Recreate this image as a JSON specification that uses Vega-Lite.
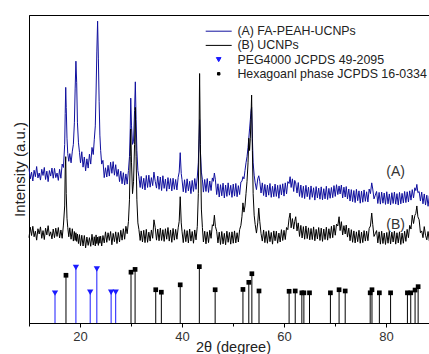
{
  "$schema": "https://vega.github.io/schema/vega-lite/v6.json",
  "width": 408,
  "height": 308,
  "autosize": {"type": "none"},
  "padding": {"left": 29, "top": 15, "right": 0, "bottom": 31},
  "background": "white",
  "config": {
    "view": {"stroke": "#000000", "strokeWidth": 1},
    "font": "Liberation Sans",
    "axis": {"grid": false, "domainColor": "#000000", "tickColor": "#000000", "labelFont": "Liberation Sans", "titleFont": "Liberation Sans", "titleFontWeight": "normal", "labelColor": "#333333", "titleColor": "#222222"},
    "legend": {"labelFont": "Liberation Sans", "labelFontSize": 12.4, "labelColor": "#222222", "labelLimit": 0}
  },
  "datasets": {
    "xrd": [
      {"x":10.00,"A":50.2,"B":27.7},{"x":10.25,"A":46.8,"B":31.1},{"x":10.50,"A":49.0,"B":28.4},{"x":10.75,"A":46.1,"B":31.4},
      {"x":11.00,"A":49.6,"B":28.0},{"x":11.25,"A":47.5,"B":29.8},{"x":11.50,"A":50.8,"B":26.9},{"x":11.75,"A":47.1,"B":30.6},
      {"x":12.00,"A":48.7,"B":28.9},{"x":12.25,"A":46.4,"B":31.2},{"x":12.50,"A":49.9,"B":27.5},{"x":12.75,"A":47.9,"B":30.0},
      {"x":13.00,"A":50.5,"B":27.1},{"x":13.25,"A":46.6,"B":30.8},{"x":13.50,"A":49.3,"B":28.6},{"x":13.75,"A":45.9,"B":31.6},
      {"x":14.00,"A":49.5,"B":28.2},{"x":14.25,"A":47.7,"B":29.6},{"x":14.50,"A":50.3,"B":27.3},{"x":14.75,"A":47.0,"B":30.5},
      {"x":15.00,"A":50.2,"B":27.7},{"x":15.25,"A":47.2,"B":30.8},{"x":15.50,"A":48.7,"B":28.1},{"x":15.75,"A":46.3,"B":31.0},
      {"x":16.00,"A":49.9,"B":27.6},{"x":16.25,"A":47.0,"B":30.2},{"x":16.50,"A":51.6,"B":27.5},{"x":16.75,"A":50.5,"B":31.8},
      {"x":17.00,"A":58,"B":38},{"x":17.10,"A":68,"B":50},{"x":17.20,"A":76.5,"B":54},{"x":17.30,"A":70,"B":42},
      {"x":17.45,"A":60,"B":34},{"x":17.60,"A":55,"B":31},{"x":17.80,"A":52.5,"B":28.0},{"x":18.00,"A":55.0,"B":30.9},
      {"x":18.25,"A":52.0,"B":27.2},{"x":18.50,"A":55.8,"B":30.6},{"x":18.70,"A":58,"B":26.6},{"x":18.90,"A":65,"B":29.7},
      {"x":19.05,"A":76,"B":26.8},{"x":19.20,"A":85,"B":29.3},{"x":19.35,"A":78,"B":26.5},{"x":19.50,"A":65,"B":28.9},
      {"x":19.70,"A":58.5,"B":25.8},{"x":19.90,"A":55.4,"B":28.7},{"x":20.10,"A":52.0,"B":25.1},{"x":20.35,"A":55.6,"B":28.5},
      {"x":20.60,"A":50.6,"B":25.0},{"x":20.85,"A":53.9,"B":28.4},{"x":21.10,"A":49.4,"B":24.4},{"x":21.35,"A":53.3,"B":27.9},
      {"x":21.60,"A":50.3,"B":25.2},{"x":21.85,"A":54.8,"B":27.7},{"x":22.10,"A":51.6,"B":24.9},{"x":22.35,"A":57.0,"B":28.8},
      {"x":22.60,"A":54.7,"B":25.3},{"x":22.80,"A":59.5,"B":28.0},{"x":23.00,"A":64,"B":25.0},{"x":23.15,"A":75,"B":28.6},
      {"x":23.30,"A":88,"B":25.8},{"x":23.45,"A":98,"B":27.9},{"x":23.60,"A":86,"B":25.2},{"x":23.75,"A":72,"B":28.1},
      {"x":23.90,"A":61,"B":25.9},{"x":24.05,"A":56.0,"B":28.2},{"x":24.25,"A":51.6,"B":25.0},{"x":24.50,"A":52.8,"B":28.4},
      {"x":24.75,"A":47.2,"B":26.0},{"x":25.00,"A":50.4,"B":29.6},{"x":25.25,"A":47.4,"B":26.2},{"x":25.50,"A":51.2,"B":29.3},
      {"x":25.75,"A":47.7,"B":26.8},{"x":26.00,"A":52.2,"B":29.7},{"x":26.25,"A":48.6,"B":25.4},{"x":26.50,"A":52.4,"B":29.1},
      {"x":26.75,"A":48.0,"B":26.4},{"x":27.00,"A":51.4,"B":29.6},{"x":27.25,"A":47.6,"B":25.8},{"x":27.50,"A":49.9,"B":29.4},
      {"x":27.75,"A":45.9,"B":26.3},{"x":28.00,"A":49.3,"B":30.1},{"x":28.25,"A":45.2,"B":26.9},{"x":28.50,"A":48.8,"B":30.6},
      {"x":28.75,"A":44.8,"B":27.2},{"x":29.00,"A":48.4,"B":31.4},{"x":29.25,"A":45.1,"B":29.0},{"x":29.50,"A":49.5,"B":33.0},
      {"x":29.70,"A":54,"B":40},{"x":29.85,"A":63,"B":54},{"x":29.95,"A":73,"B":63},{"x":30.10,"A":64,"B":52},
      {"x":30.30,"A":58,"B":42},{"x":30.50,"A":59,"B":46},{"x":30.70,"A":69,"B":58},{"x":30.85,"A":78.3,"B":70},
      {"x":31.00,"A":66,"B":54},{"x":31.15,"A":56,"B":40},{"x":31.35,"A":49.5,"B":32.5},{"x":31.55,"A":47.5,"B":30.4},
      {"x":31.80,"A":44.0,"B":26.8},{"x":32.00,"A":47.6,"B":29.9},{"x":32.25,"A":43.6,"B":26.3},{"x":32.50,"A":47.0,"B":30.1},
      {"x":32.75,"A":43.2,"B":26.1},{"x":33.00,"A":47.9,"B":30.4},{"x":33.25,"A":44.0,"B":26.2},{"x":33.50,"A":48.0,"B":29.5},
      {"x":33.75,"A":44.1,"B":26.6},{"x":34.00,"A":47.2,"B":30.2},{"x":34.25,"A":44.6,"B":27.5},{"x":34.50,"A":49.0,"B":33.5},
      {"x":34.75,"A":46.0,"B":31.0},{"x":35.00,"A":43.8,"B":26.9},{"x":35.25,"A":47.7,"B":30.5},{"x":35.50,"A":43.4,"B":26.7},
      {"x":35.75,"A":47.4,"B":30.8},{"x":36.00,"A":43.0,"B":26.8},{"x":36.25,"A":47.8,"B":30.3},{"x":36.50,"A":43.7,"B":26.5},
      {"x":36.75,"A":46.7,"B":30.6},{"x":37.00,"A":42.8,"B":27.2},{"x":37.25,"A":47.2,"B":31.0},{"x":37.50,"A":43.5,"B":26.6},
      {"x":37.75,"A":46.9,"B":30.2},{"x":38.00,"A":42.9,"B":26.2},{"x":38.25,"A":47.0,"B":30.7},{"x":38.50,"A":43.4,"B":26.9},
      {"x":38.75,"A":46.6,"B":30.4},{"x":39.00,"A":43.2,"B":27.2},{"x":39.25,"A":47.3,"B":30.9},{"x":39.45,"A":49,"B":33},
      {"x":39.65,"A":55.3,"B":41},{"x":39.85,"A":48.5,"B":32.5},{"x":40.00,"A":46.6,"B":29.8},{"x":40.25,"A":42.6,"B":26.1},
      {"x":40.50,"A":46.5,"B":30.3},{"x":40.75,"A":42.3,"B":26.4},{"x":41.00,"A":46.8,"B":30.0},{"x":41.25,"A":42.9,"B":26.0},
      {"x":41.50,"A":46.0,"B":30.5},{"x":41.75,"A":42.0,"B":26.6},{"x":42.00,"A":46.3,"B":29.7},{"x":42.25,"A":42.7,"B":25.9},
      {"x":42.50,"A":46.9,"B":30.2},{"x":42.75,"A":43.4,"B":27.0},{"x":43.00,"A":47.4,"B":31.4},{"x":43.20,"A":52,"B":42},
      {"x":43.35,"A":60,"B":62},{"x":43.45,"A":66,"B":81},{"x":43.60,"A":56,"B":58},{"x":43.80,"A":49,"B":37},
      {"x":44.00,"A":46.5,"B":31},{"x":44.20,"A":42.5,"B":26.3},{"x":44.45,"A":46.6,"B":29.8},{"x":44.70,"A":42.7,"B":25.7},
      {"x":44.95,"A":46.9,"B":29.6},{"x":45.20,"A":42.4,"B":26.1},{"x":45.45,"A":46.1,"B":30.1},{"x":45.70,"A":43.0,"B":27.5},
      {"x":45.95,"A":47.1,"B":31.9},{"x":46.15,"A":46.0,"B":31.5},{"x":46.35,"A":48.7,"B":35},{"x":46.55,"A":46.5,"B":31.4},
      {"x":46.80,"A":41.7,"B":29.8},{"x":47.05,"A":45.2,"B":26.0},{"x":47.30,"A":40.9,"B":29.5},{"x":47.55,"A":44.9,"B":25.5},
      {"x":47.80,"A":41.3,"B":29.7},{"x":48.05,"A":45.4,"B":25.7},{"x":48.30,"A":40.6,"B":29.1},{"x":48.55,"A":44.8,"B":25.4},
      {"x":48.80,"A":41.1,"B":29.8},{"x":49.05,"A":45.5,"B":26.2},{"x":49.30,"A":41.5,"B":29.4},{"x":49.55,"A":44.7,"B":25.6},
      {"x":49.80,"A":40.8,"B":29.6},{"x":50.05,"A":45.1,"B":25.9},{"x":50.30,"A":41.2,"B":29.9},{"x":50.55,"A":45.3,"B":26.0},
      {"x":50.80,"A":41.0,"B":29.3},{"x":51.05,"A":44.6,"B":26.3},{"x":51.30,"A":41.7,"B":30.3},{"x":51.55,"A":45.8,"B":31.7},
      {"x":51.75,"A":46.0,"B":34.5},{"x":51.95,"A":47.5,"B":39},{"x":52.15,"A":46.8,"B":36},{"x":52.35,"A":49.5,"B":38},
      {"x":52.55,"A":52,"B":42},{"x":52.75,"A":54,"B":46},{"x":52.95,"A":57,"B":52},{"x":53.10,"A":60,"B":60},
      {"x":53.25,"A":63,"B":56},{"x":53.40,"A":66,"B":60},{"x":53.55,"A":69,"B":68},{"x":53.65,"A":70,"B":74},
      {"x":53.80,"A":60,"B":56},{"x":53.95,"A":52,"B":42},{"x":54.15,"A":48,"B":35},{"x":54.35,"A":45.5,"B":32},
      {"x":54.60,"A":43.3,"B":29.2},{"x":54.85,"A":46.8,"B":32.5},{"x":55.05,"A":47.8,"B":37.3},{"x":55.25,"A":46.0,"B":33},
      {"x":55.50,"A":42.2,"B":29.0},{"x":55.75,"A":45.5,"B":26.6},{"x":56.00,"A":41.4,"B":30.2},{"x":56.25,"A":45.0,"B":26.1},
      {"x":56.50,"A":40.9,"B":29.7},{"x":56.75,"A":44.8,"B":25.9},{"x":57.00,"A":41.5,"B":30.0},{"x":57.25,"A":45.3,"B":26.4},
      {"x":57.50,"A":40.8,"B":29.4},{"x":57.75,"A":44.4,"B":25.6},{"x":58.00,"A":41.0,"B":29.9},{"x":58.25,"A":45.1,"B":26.7},
      {"x":58.50,"A":41.1,"B":29.8},{"x":58.75,"A":44.7,"B":25.9},{"x":59.00,"A":40.5,"B":29.2},{"x":59.25,"A":44.9,"B":26.3},
      {"x":59.50,"A":41.6,"B":30.3},{"x":59.75,"A":45.2,"B":26.8},{"x":60.00,"A":41.2,"B":30.1},{"x":60.25,"A":45.5,"B":27.1},
      {"x":60.50,"A":41.9,"B":31.0},{"x":60.75,"A":45.9,"B":30.3},{"x":61.00,"A":45.3,"B":34.0},{"x":61.20,"A":47.5,"B":35.7},
      {"x":61.40,"A":44.0,"B":30.9},{"x":61.65,"A":46.8,"B":33.9},{"x":61.90,"A":42.7,"B":30.5},{"x":62.10,"A":46.3,"B":33.0},
      {"x":62.30,"A":45.5,"B":34.5},{"x":62.55,"A":42.2,"B":29.9},{"x":62.80,"A":45.6,"B":32.5},{"x":63.05,"A":41.1,"B":28.1},
      {"x":63.30,"A":44.8,"B":31.7},{"x":63.55,"A":40.7,"B":27.6},{"x":63.80,"A":44.4,"B":31.3},{"x":64.05,"A":40.4,"B":27.2},
      {"x":64.30,"A":44.7,"B":31.5},{"x":64.55,"A":41.0,"B":27.4},{"x":64.80,"A":44.1,"B":30.9},{"x":65.05,"A":40.1,"B":27.0},
      {"x":65.30,"A":44.5,"B":30.7},{"x":65.55,"A":40.8,"B":27.1},{"x":65.80,"A":43.9,"B":31.2},{"x":66.05,"A":39.9,"B":26.7},
      {"x":66.30,"A":44.3,"B":30.4},{"x":66.55,"A":40.6,"B":27.3},{"x":66.80,"A":43.8,"B":31.0},{"x":67.05,"A":40.2,"B":26.8},
      {"x":67.30,"A":44.2,"B":30.8},{"x":67.55,"A":40.0,"B":26.5},{"x":67.80,"A":43.6,"B":30.5},{"x":68.05,"A":40.3,"B":27.1},
      {"x":68.30,"A":44.4,"B":31.1},{"x":68.55,"A":40.1,"B":26.9},{"x":68.80,"A":43.7,"B":30.6},{"x":69.05,"A":40.5,"B":27.5},
      {"x":69.30,"A":44.0,"B":31.4},{"x":69.55,"A":40.7,"B":27.7},{"x":69.80,"A":44.6,"B":31.8},{"x":70.05,"A":41.1,"B":28.5},
      {"x":70.30,"A":44.9,"B":32.1},{"x":70.55,"A":41.7,"B":31.5},{"x":70.80,"A":44.5,"B":34.5},{"x":71.00,"A":41.9,"B":30.0},
      {"x":71.25,"A":44.8,"B":32.9},{"x":71.50,"A":40.6,"B":28.6},{"x":71.75,"A":44.1,"B":31.6},{"x":72.00,"A":40.9,"B":28.9},
      {"x":72.20,"A":44.3,"B":31.8},{"x":72.45,"A":40.3,"B":27.9},{"x":72.70,"A":43.5,"B":30.8},{"x":72.95,"A":39.6,"B":26.7},
      {"x":73.20,"A":43.3,"B":30.3},{"x":73.45,"A":39.4,"B":26.2},{"x":73.70,"A":43.0,"B":29.9},{"x":73.95,"A":39.1,"B":26.0},
      {"x":74.20,"A":43.4,"B":29.6},{"x":74.45,"A":39.7,"B":26.4},{"x":74.70,"A":42.9,"B":30.1},{"x":74.95,"A":38.9,"B":25.9},
      {"x":75.20,"A":42.8,"B":29.5},{"x":75.45,"A":39.2,"B":26.1},{"x":75.70,"A":43.2,"B":30.0},{"x":75.95,"A":39.5,"B":26.6},
      {"x":76.20,"A":42.6,"B":29.8},{"x":76.45,"A":39.3,"B":26.7},{"x":76.70,"A":43.5,"B":30.7},{"x":76.95,"A":42.0,"B":31.5},
      {"x":77.20,"A":45.5,"B":35.7},{"x":77.40,"A":43.5,"B":32.0},{"x":77.65,"A":40.3,"B":28.1},{"x":77.90,"A":41.5,"B":29.0},
      {"x":78.15,"A":42.7,"B":30.0},{"x":78.40,"A":38.8,"B":26.0},{"x":78.65,"A":42.4,"B":29.6},{"x":78.90,"A":38.6,"B":25.6},
      {"x":79.15,"A":42.5,"B":29.8},{"x":79.40,"A":38.9,"B":25.8},{"x":79.65,"A":42.2,"B":29.2},{"x":79.90,"A":38.5,"B":25.5},
      {"x":80.15,"A":42.6,"B":29.4},{"x":80.40,"A":38.7,"B":25.9},{"x":80.65,"A":41.9,"B":29.8},{"x":80.90,"A":38.4,"B":25.7},
      {"x":81.15,"A":42.3,"B":29.5},{"x":81.40,"A":38.8,"B":26.3},{"x":81.65,"A":42.5,"B":29.8},{"x":81.90,"A":38.6,"B":25.6},
      {"x":82.15,"A":42.0,"B":29.3},{"x":82.40,"A":38.3,"B":26.0},{"x":82.65,"A":42.4,"B":29.6},{"x":82.90,"A":38.7,"B":25.5},
      {"x":83.15,"A":42.1,"B":29.2},{"x":83.40,"A":39.0,"B":25.9},{"x":83.65,"A":42.7,"B":29.8},{"x":83.90,"A":39.1,"B":26.5},
      {"x":84.15,"A":42.6,"B":30.4},{"x":84.40,"A":39.3,"B":27.7},{"x":84.65,"A":42.9,"B":31.7},{"x":84.90,"A":39.9,"B":30.5},
      {"x":85.15,"A":43.3,"B":35.0},{"x":85.40,"A":40.6,"B":32.3},{"x":85.65,"A":43.9,"B":34.9},{"x":85.85,"A":43.0,"B":35.6},
      {"x":86.05,"A":45.0,"B":38.0},{"x":86.25,"A":42.3,"B":34.5},{"x":86.50,"A":42.7,"B":33.5},{"x":86.75,"A":39.6,"B":29.3},
      {"x":87.00,"A":42.5,"B":29.9},{"x":87.25,"A":38.7,"B":27.7},{"x":87.50,"A":41.9,"B":31.3},{"x":87.75,"A":38.3,"B":28.5},
      {"x":88.00,"A":41.5,"B":27.0},{"x":88.25,"A":37.9,"B":29.7},{"x":88.50,"A":41.3,"B":26.6},{"x":88.75,"A":38.0,"B":29.5},
      {"x":89.00,"A":41.1,"B":26.4},{"x":89.25,"A":37.7,"B":29.3},{"x":89.50,"A":40.9,"B":26.7},{"x":89.75,"A":37.8,"B":29.4},
      {"x":90.00,"A":40.7,"B":26.9}
    ],
    "sticks": [
      {"x":15.1,"h":9.7,"s":"P"},{"x":19.2,"h":18,"s":"P"},{"x":22.0,"h":10,"s":"P"},{"x":23.3,"h":17.5,"s":"P"},
      {"x":26.1,"h":10,"s":"P"},{"x":27.0,"h":10,"s":"P"},
      {"x":17.25,"h":15.5,"s":"H"},{"x":30.0,"h":16.5,"s":"H"},{"x":30.8,"h":17.4,"s":"H"},{"x":34.85,"h":10.8,"s":"H"},
      {"x":35.95,"h":10,"s":"H"},{"x":39.65,"h":12.4,"s":"H"},{"x":43.4,"h":18.3,"s":"H"},{"x":46.5,"h":10.8,"s":"H"},
      {"x":51.95,"h":10.9,"s":"H"},{"x":53.1,"h":13.2,"s":"H"},{"x":53.7,"h":16,"s":"H"},{"x":55.1,"h":10.4,"s":"H"},
      {"x":61.0,"h":10.3,"s":"H"},{"x":62.2,"h":10.4,"s":"H"},{"x":63.5,"h":9.8,"s":"H"},{"x":63.9,"h":9.8,"s":"H"},
      {"x":65.0,"h":9.8,"s":"H"},{"x":69.1,"h":9.8,"s":"H"},{"x":70.8,"h":10.8,"s":"H"},{"x":72.0,"h":10.4,"s":"H"},
      {"x":76.9,"h":9.8,"s":"H"},{"x":77.25,"h":10.8,"s":"H"},{"x":78.7,"h":9.8,"s":"H"},{"x":80.9,"h":9.8,"s":"H"},
      {"x":84.2,"h":9.8,"s":"H"},{"x":84.85,"h":9.8,"s":"H"},{"x":85.7,"h":10.7,"s":"H"},{"x":86.3,"h":11.8,"s":"H"}
    ],
    "ann": [
      {"x":81.9,"y":49.1,"t":"(A)"},{"x":81.9,"y":31.8,"t":"(B)"}
    ]
  },
  "resolve": {"scale": {"color": "shared", "shape": "shared"}},
  "layer": [
    {
      "data": {"name": "xrd"},
      "transform": [{"fold": ["A", "B"], "as": ["s", "v"]}],
      "mark": {"type": "line", "strokeWidth": 1, "interpolate": "linear"},
      "encoding": {
        "x": {"field": "x", "type": "quantitative", "scale": {"domain": [10, 90], "nice": false, "zero": false},
              "axis": {"values": [10,20,30,40,50,60,70,80,90], "labelExpr": "datum.value % 20 === 0 ? datum.label : ''",
                       "tickSize": {"condition": {"test": "datum.value % 20 === 0", "value": 4}, "value": 3},
                       "labelFontSize": 13, "labelPadding": 3, "labelOverlap": false, "labelFlush": false,
                       "title": "2θ (degree)", "titleFontSize": 14.5, "titlePadding": -3}},
        "y": {"field": "v", "type": "quantitative", "scale": {"domain": [0, 100], "nice": false},
              "axis": {"labels": false, "ticks": false, "title": "Intensity (a.u.)", "titleFontSize": 15, "titlePadding": 2}},
        "color": {"field": "s", "type": "nominal",
                  "scale": {"domain": ["A", "B", "P", "H"], "range": ["#10109e", "#000000", "#1a1aff", "#000000"]},
                  "legend": {"title": null, "orient": "none", "legendX": 183.5, "legendY": 10, "labelOffset": 12.5,
                             "symbolSize": 36, "rowPadding": 1.2, "padding": 0, "labelLimit": 0,
                             "labelExpr": "datum.value === 'A' ? '(A) FA-PEAH-UCNPs' : datum.value === 'B' ? '(B) UCNPs' : datum.value === 'P' ? 'PEG4000 JCPDS 49-2095' : 'Hexagoanl phase JCPDS 16-0334'",
                             "encode": {"symbols": {"update": {"stroke": {"signal": "scale('color', datum.value)"}, "strokeWidth": {"value": 1}, "size": {"signal": "datum.value === 'H' ? 6 : datum.value === 'P' ? 22 : 36"}}}}}},
        "detail": {"field": "s"}
      }
    },
    {
      "data": {"name": "sticks"},
      "mark": {"type": "rule", "strokeWidth": 1},
      "encoding": {
        "x": {"field": "x", "type": "quantitative"},
        "y": {"field": "h", "type": "quantitative"},
        "y2": {"datum": 0},
        "color": {"field": "s", "type": "nominal"}
      }
    },
    {
      "data": {"name": "sticks"},
      "transform": [{"filter": "datum.s === 'P'"}],
      "mark": {"type": "point", "filled": true, "opacity": 1, "size": 40},
      "encoding": {
        "x": {"field": "x", "type": "quantitative"},
        "y": {"field": "h", "type": "quantitative"},
        "color": {"field": "s", "type": "nominal"},
        "shape": {"field": "s", "type": "nominal", "scale": {"domain": ["A", "B", "P", "H"], "range": ["M-4.33,0H4.33", "M-4.33,0H4.33", "triangle-down", "square"]}}
      }
    },
    {
      "data": {"name": "sticks"},
      "transform": [{"filter": "datum.s === 'H'"}],
      "mark": {"type": "point", "filled": true, "opacity": 1, "size": 22},
      "encoding": {
        "x": {"field": "x", "type": "quantitative"},
        "y": {"field": "h", "type": "quantitative"},
        "color": {"field": "s", "type": "nominal"},
        "shape": {"field": "s", "type": "nominal"}
      }
    },
    {
      "data": {"name": "ann"},
      "mark": {"type": "text", "fontSize": 14, "color": "#333333", "font": "Liberation Sans"},
      "encoding": {
        "x": {"field": "x", "type": "quantitative"},
        "y": {"field": "y", "type": "quantitative"},
        "text": {"field": "t"}
      }
    }
  ]
}
